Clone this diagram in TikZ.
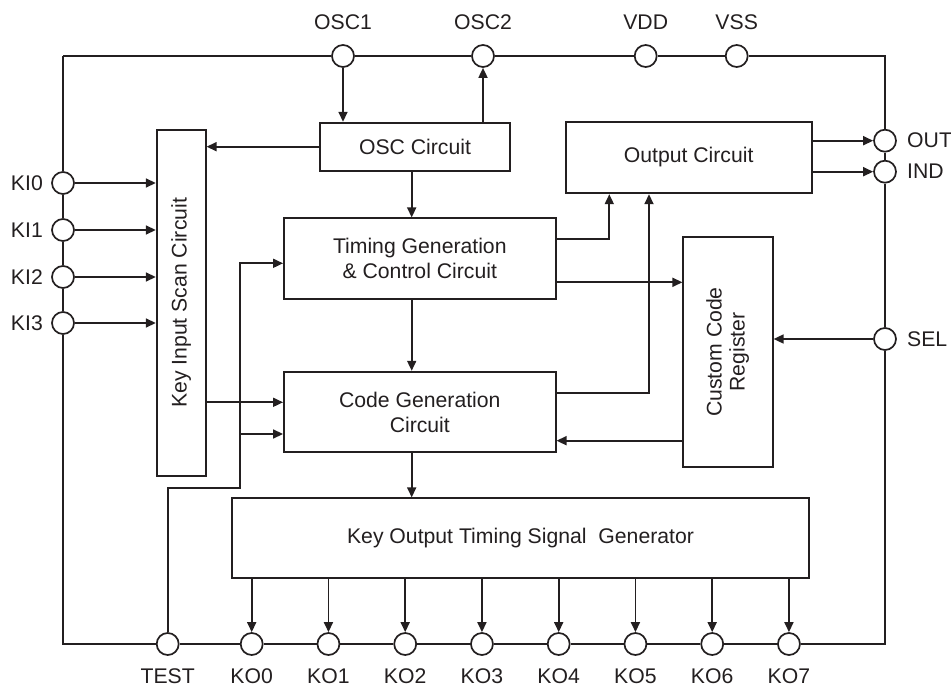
\documentclass[tikz,border=0pt]{standalone}
\usepackage{fontspec}
\setmainfont{Liberation Sans}
\usetikzlibrary{arrows.meta}
\definecolor{ink}{HTML}{231F20}
\begin{document}
\begin{tikzpicture}[x=1pt,y=-1pt,
  every node/.style={font=\fontsize{21.2}{25}\selectfont, text=ink},
  wire/.style={draw=ink, line width=1.7pt},
  arr/.style={wire, -{Triangle[length=10pt,width=9pt]}},
  box/.style={draw=ink, line width=1.8pt, fill=white, rectangle, inner sep=0pt, align=center},
  pin/.style={draw=ink, line width=1.7pt, fill=white, circle, inner sep=0pt, minimum size=22pt},
  lbl/.style={inner sep=0pt}]
\useasboundingbox (0,0) rectangle (951,687);

% pins
\node[pin] (osc1) at (343,56) {};
\node[pin] (osc2) at (483,56) {};
\node[pin] (vdd) at (645.7,56) {};
\node[pin] (vss) at (736.7,56) {};
\node[pin] (ki0) at (63,183) {};
\node[pin] (ki1) at (63,230) {};
\node[pin] (ki2) at (63,277) {};
\node[pin] (ki3) at (63,323) {};
\node[pin] (outp) at (885,140.7) {};
\node[pin] (ind) at (885,171.7) {};
\node[pin] (sel) at (885,339) {};
\node[pin] (test) at (167.7,644) {};
\foreach \i in {0,...,7} {
  \node[pin] (ko\i) at ({251.7+76.75*\i},644) {};
}

% chip outline between pins
\draw[wire] (ki0 |- osc1) -- (osc1.west);
\draw[wire] (osc1.east) -- (osc2.west);
\draw[wire] (osc2.east) -- (vdd.west);
\draw[wire] (vdd.east) -- (vss.west);
\draw[wire] (vss.east) -| (outp.north);
\draw[wire] (outp.south) -- (ind.north);
\draw[wire] (ind.south) -- (sel.north);
\draw[wire] (sel.south) |- (ko7.east);
\foreach \a/\b in {ko7/ko6,ko6/ko5,ko5/ko4,ko4/ko3,ko3/ko2,ko2/ko1,ko1/ko0,ko0/test} {
  \draw[wire] (\a.west) -- (\b.east);
}
\draw[wire] (test.west) -| (ki3.south);
\draw[wire] (ki3.north) -- (ki2.south);
\draw[wire] (ki2.north) -- (ki1.south);
\draw[wire] (ki1.north) -- (ki0.south);
\draw[wire] (ki0.north) -- (ki0 |- osc1);

% pin labels
\node[lbl] (losc1) at (343,22) {OSC1};
\node[lbl] (losc2) at (483,22) {OSC2};
\node[lbl] (lvdd) at (645.7,22) {VDD};
\node[lbl] (lvss) at (736.7,22) {VSS};
\node[lbl, anchor=east] (lki0) at (43,183) {KI0};
\node[lbl, anchor=east] (lki1) at (43,230) {KI1};
\node[lbl, anchor=east] (lki2) at (43,277) {KI2};
\node[lbl, anchor=east] (lki3) at (43,323) {KI3};
\node[lbl, anchor=west] (lout) at (907,140.7) {OUT};
\node[lbl, anchor=west] (lind) at (907,171.7) {IND};
\node[lbl, anchor=west] (lsel) at (907,339) {SEL};
\node[lbl] (ltest) at (167.7,676.5) {TEST};
\foreach \i in {0,...,7} {
  \node[lbl] (lko\i) at ({251.7+76.75*\i},676.5) {KO\i};
}

% blocks
\node[box, minimum width=49pt, minimum height=345.7pt] (kis) at (181.2,302.8) {\rotatebox{90}{Key Input Scan Circuit}};
\node[box, minimum width=190pt, minimum height=48pt] (osc) at (415,146.7) {OSC Circuit};
\node[box, minimum width=271.7pt, minimum height=80.7pt] (tim) at (419.8,258.7) {Timing Generation\\\& Control Circuit};
\node[box, minimum width=271.7pt, minimum height=80.6pt] (code) at (419.8,412) {Code Generation\\Circuit};
\node[box, minimum width=246pt, minimum height=71.6pt] (out) at (688.7,157.5) {Output Circuit};
\node[box, minimum width=89.4pt, minimum height=230.6pt] (ccr) at (728,352) {\rotatebox{90}{\begin{tabular}{@{}c@{}}Custom Code\\[-2pt]Register\end{tabular}}};
\node[box, minimum width=577.6pt, minimum height=80pt] (kot) at (520.5,538.3) {Key Output Timing Signal\ \ Generator};

% helper coordinates
\coordinate (vx) at (411.7,0);
\coordinate (t1) at (609.3,239.3);
\coordinate (c1) at (649,393.3);
\coordinate (t2) at (0,282.3);
\coordinate (c2) at (0,440.7);
\coordinate (k1) at (0,402.3);
\coordinate (tb) at (240,488.3);
\coordinate (tt) at (0,263.3);
\coordinate (tc) at (0,434);

% connectors
\draw[arr] (osc1.south) -- (osc1 |- osc.north);
\draw[arr] (osc2 |- osc.north) -- (osc2.south);
\draw[arr] (osc.west) -- (osc.west -| kis.east);
\draw[arr] (osc.south -| vx) -- (tim.north -| vx);
\draw[arr] (tim.south -| vx) -- (code.north -| vx);
\draw[arr] (code.south -| vx) -- (kot.north -| vx);
\foreach \k in {ki0,ki1,ki2,ki3} {
  \draw[arr] (\k.east) -- (\k -| kis.west);
}
\draw[arr] (tim.east |- t1) -- (t1) -- (t1 |- out.south);
\draw[arr] (code.east |- c1) -- (c1) -- (c1 |- out.south);
\draw[arr] (tim.east |- t2) -- (ccr.west |- t2);
\draw[arr] (ccr.west |- c2) -- (code.east |- c2);
\draw[arr] (sel.west) -- (sel -| ccr.east);
\draw[arr] (out.east |- outp) -- (outp.west);
\draw[arr] (out.east |- ind) -- (ind.west);
\draw[arr] (kis.east |- k1) -- (code.west |- k1);
\draw[arr] (test.north) |- (tb) -- (tb |- tt) -- (tim.west |- tt);
\draw[arr] (tb |- tc) -- (code.west |- tc);
\foreach \i in {0,...,7} {
  \draw[arr] (kot.south -| ko\i) -- (ko\i.north);
}
\end{tikzpicture}
\end{document}
